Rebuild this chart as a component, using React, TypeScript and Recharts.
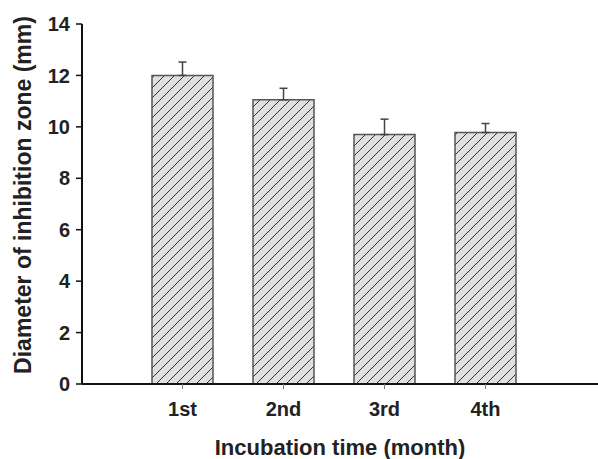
import { BarChart, Bar, XAxis, YAxis, ErrorBar } from "recharts";

const categories = ["1st", "2nd", "3rd", "4th"];
const means = [12.0, 11.05, 9.7, 9.78];
const errors = [0.52, 0.45, 0.6, 0.35];
const yTicks = [0, 2, 4, 6, 8, 10, 12, 14];

const data = categories.map((name, i) => ({ name, value: means[i], err: [0, errors[i]] }));

const font = "'Liberation Sans', Arial, sans-serif";

// rotated y label, nudged a little above the plot's middle like the original
const YLabel = () => (
  <text
    x={31}
    y={195}
    transform="rotate(-90, 31, 195)"
    textAnchor="middle"
    fill="#222"
    fontSize={23}
    fontWeight="bold"
    fontFamily={font}
  >
    Diameter of inhibition zone (mm)
  </text>
);

export default function App() {
  return (
    <div style={{ position: "absolute", left: 0, top: 0, background: "#fff" }}>
      <BarChart width={598} height={459} data={data} margin={{ top: 24, right: 0, bottom: 0, left: 0 }}>
        <defs>
          <pattern id="hatch" patternUnits="userSpaceOnUse" width="10" height="10">
            <rect width="10" height="10" fill="#e0e0e0" />
            <path d="M-2,2 L2,-2 M0,10 L10,0 M8,12 L12,8" stroke="#333" strokeWidth="1" />
          </pattern>
        </defs>
        <XAxis
          dataKey="name"
          height={75}
          padding={{ left: 50, right: 62 }}
          axisLine={{ stroke: "#111", strokeWidth: 2 }}
          tickLine={{ stroke: "#777", strokeWidth: 1 }}
          tickSize={5}
          tickMargin={13}
          tick={{ fill: "#222", fontSize: 20, fontWeight: "bold", fontFamily: font }}
          label={{
            value: "Incubation time (month)",
            position: "insideBottom",
            offset: 4,
            style: { fill: "#222", fontSize: 22, fontWeight: "bold", fontFamily: font },
          }}
        />
        <YAxis
          width={82}
          domain={[0, 14]}
          ticks={yTicks}
          interval={0}
          axisLine={{ stroke: "#111", strokeWidth: 2 }}
          tickLine={{ stroke: "#111", strokeWidth: 1.5 }}
          tickSize={6}
          tickMargin={6}
          tick={{ fill: "#222", fontSize: 20, fontWeight: "bold", fontFamily: font }}
          label={{ content: YLabel }}
        />
        <Bar dataKey="value" fill="url(#hatch)" stroke="#555" strokeWidth={1.5} barSize={61} isAnimationActive={false}>
          <ErrorBar dataKey="err" width={4} stroke="#444" strokeWidth={1.5} direction="y" />
        </Bar>
      </BarChart>
    </div>
  );
}
